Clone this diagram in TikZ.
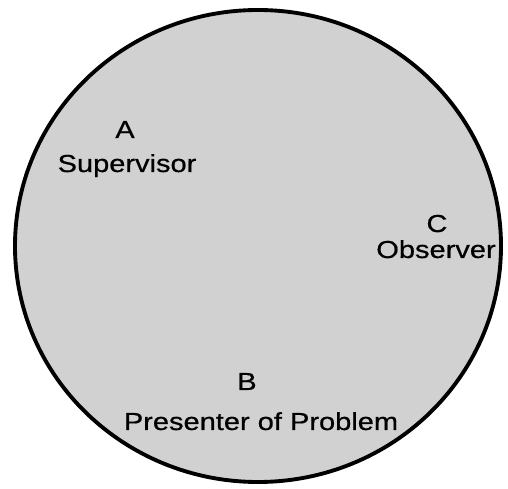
\documentclass[tikz,border=0pt]{standalone}
\usepackage{fontspec}
\newfontfamily\labelfont[FakeStretch=1.18, FakeBold=0.6]{Liberation Sans}
\usetikzlibrary{positioning}

\begin{document}
\begin{tikzpicture}[x=0.02cm, y=-0.02cm, every node/.style={font=\labelfont\fontsize{14}{16}\selectfont, inner sep=0pt, anchor=base}]

      \useasboundingbox (0,0) rectangle (508,489);

      % the group circle
      \draw[line width=2.2pt, fill=black!18] (258,246) ellipse [x radius=243, y radius=236];

      \node (a) at (125,138) {A};
      \node (supervisor) at (127,172) {Supervisor};

      \node (c) at (437,232) {C};
      \node (observer) at (436,258) {Observer};

      \node (b) at (247,390) {B};
      \node (presenter) at (261,430) {Presenter of Problem};

\end{tikzpicture}
\end{document}
